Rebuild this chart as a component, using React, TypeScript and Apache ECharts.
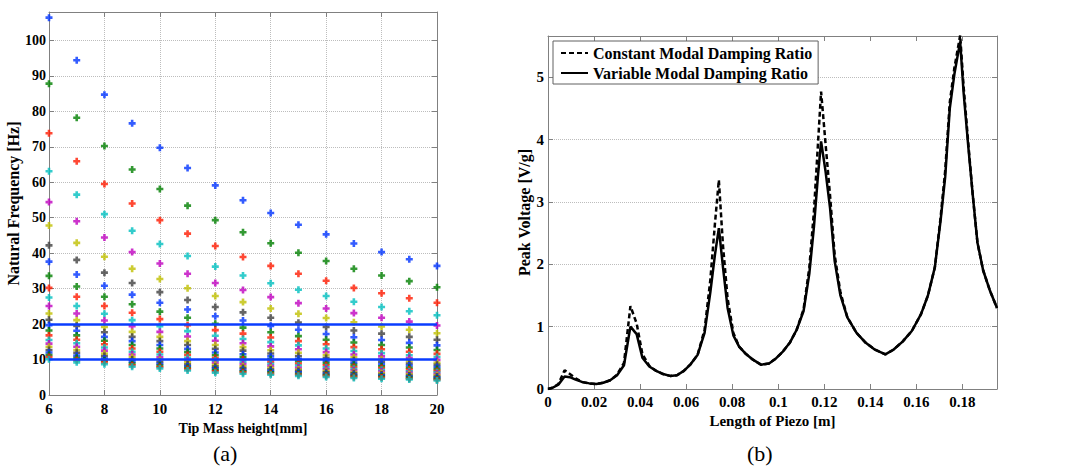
import React, { useEffect, useRef } from "react";
import * as echarts from "echarts";

// ---------- (a) Natural frequency vs tip mass height ----------
const tipHeights = [6, 7, 8, 9, 10, 11, 12, 13, 14, 15, 16, 17, 18, 19, 20];
// one array per tip-mass height, values of the 25 plotted frequencies (Hz), highest first
const f6 = [106.4, 87.8, 73.8, 63.1, 54.4, 47.8, 42.2, 37.6, 33.6, 30.2, 27.5, 25.1, 23.0, 21.2, 19.7, 18.2, 16.8, 15.5, 14.5, 13.6, 12.7, 12.0, 11.3, 10.7, 10.1];
const f7 = [94.4, 78.2, 65.9, 56.5, 49.0, 42.9, 38.1, 34.0, 30.6, 27.7, 25.1, 23.0, 21.1, 19.5, 18.1, 16.8, 15.6, 14.6, 13.6, 12.7, 11.9, 11.1, 10.4, 9.8, 9.2];
const f8 = [84.7, 70.2, 59.5, 51.0, 44.4, 39.0, 34.5, 30.8, 27.7, 25.1, 22.9, 21.0, 19.2, 17.7, 16.4, 15.3, 14.3, 13.4, 12.5, 11.7, 11.0, 10.3, 9.7, 9.2, 8.7];
const f9 = [76.6, 63.6, 54.0, 46.3, 40.3, 35.6, 31.6, 28.3, 25.6, 23.2, 21.1, 19.4, 17.8, 16.4, 15.2, 14.1, 13.1, 12.2, 11.4, 10.7, 10.0, 9.4, 8.9, 8.4, 8.0];
const f10 = [69.7, 58.1, 49.3, 42.6, 37.1, 32.7, 29.0, 26.0, 23.5, 21.4, 19.4, 17.8, 16.4, 15.2, 14.1, 13.1, 12.2, 11.4, 10.6, 9.9, 9.3, 8.8, 8.3, 7.9, 7.5];
const f11 = [64.0, 53.4, 45.5, 39.2, 34.2, 30.1, 26.8, 24.1, 21.8, 19.7, 18.0, 16.5, 15.2, 14.1, 13.0, 12.1, 11.3, 10.5, 9.8, 9.2, 8.6, 8.1, 7.7, 7.3, 6.9];
const f12 = [59.1, 49.3, 42.0, 36.2, 31.6, 27.9, 24.8, 22.2, 20.1, 18.3, 16.7, 15.3, 14.1, 13.0, 12.0, 11.2, 10.4, 9.7, 9.1, 8.5, 8.0, 7.5, 7.1, 6.7, 6.3];
const f13 = [54.9, 45.9, 38.9, 33.7, 29.6, 26.2, 23.3, 21.0, 19.0, 17.3, 15.8, 14.6, 13.5, 12.5, 11.5, 10.7, 10.0, 9.3, 8.7, 8.1, 7.6, 7.1, 6.7, 6.4, 6.0];
const f14 = [51.3, 42.8, 36.4, 31.5, 27.6, 24.4, 21.8, 19.5, 17.7, 16.2, 14.9, 13.7, 12.6, 11.7, 10.9, 10.1, 9.4, 8.8, 8.2, 7.7, 7.2, 6.8, 6.4, 6.0, 5.7];
const f15 = [48.0, 40.1, 34.2, 29.7, 25.9, 22.9, 20.4, 18.4, 16.6, 15.2, 14.0, 12.9, 11.9, 11.0, 10.2, 9.5, 8.9, 8.3, 7.7, 7.2, 6.8, 6.4, 6.0, 5.7, 5.4];
const f16 = [45.3, 37.8, 32.2, 27.9, 24.4, 21.7, 19.2, 17.2, 15.6, 14.3, 13.1, 12.1, 11.2, 10.4, 9.6, 9.0, 8.4, 7.8, 7.3, 6.8, 6.4, 6.0, 5.7, 5.4, 5.1];
const f17 = [42.7, 35.6, 30.2, 26.3, 23.1, 20.5, 18.2, 16.3, 14.8, 13.5, 12.4, 11.4, 10.6, 9.8, 9.1, 8.5, 7.9, 7.4, 6.9, 6.5, 6.1, 5.7, 5.4, 5.1, 4.8];
const f18 = [40.3, 33.7, 28.7, 24.8, 21.8, 19.3, 17.3, 15.5, 14.1, 12.9, 11.8, 10.9, 10.1, 9.4, 8.7, 8.1, 7.6, 7.1, 6.6, 6.2, 5.8, 5.5, 5.2, 4.9, 4.6];
const f19 = [38.3, 32.1, 27.3, 23.6, 20.7, 18.4, 16.4, 14.7, 13.4, 12.2, 11.2, 10.4, 9.6, 8.9, 8.3, 7.7, 7.2, 6.7, 6.3, 5.9, 5.5, 5.2, 4.9, 4.6, 4.4];
const f20 = [36.4, 30.4, 26.0, 22.5, 19.6, 17.4, 15.6, 14.0, 12.7, 11.6, 10.7, 9.9, 9.1, 8.5, 7.9, 7.3, 6.8, 6.4, 6.0, 5.6, 5.2, 4.9, 4.6, 4.3, 4.1];
const freqColumns = [f6, f7, f8, f9, f10, f11, f12, f13, f14, f15, f16, f17, f18, f19, f20];
const thresholdLines = [20, 10];
const yTicksA = { min: 0, max: 108, interval: 10 };

// ---------- (b) Peak voltage vs piezo length ----------
const pieceLength = [0, 0.002, 0.0045, 0.0072, 0.0095, 0.012, 0.015, 0.018, 0.021, 0.024, 0.027, 0.03, 0.033, 0.0358, 0.0385, 0.041, 0.044, 0.047, 0.05, 0.053, 0.056, 0.059, 0.062, 0.065, 0.068, 0.0705, 0.0725, 0.0742, 0.076, 0.078, 0.0805, 0.083, 0.086, 0.089, 0.0925, 0.096, 0.099, 0.102, 0.105, 0.108, 0.111, 0.1135, 0.1155, 0.1172, 0.1186, 0.1205, 0.1225, 0.1245, 0.127, 0.13, 0.134, 0.138, 0.142, 0.1465, 0.15, 0.154, 0.158, 0.162, 0.165, 0.168, 0.1705, 0.1725, 0.1745, 0.1765, 0.179, 0.1805, 0.1825, 0.1845, 0.1865, 0.189, 0.192, 0.195];
const constantDamping = [0, 0.02, 0.08, 0.3, 0.24, 0.17, 0.11, 0.09, 0.08, 0.1, 0.14, 0.23, 0.42, 1.33, 1.05, 0.56, 0.37, 0.29, 0.24, 0.21, 0.22, 0.29, 0.4, 0.55, 0.95, 1.75, 2.65, 3.35, 2.3, 1.45, 0.9, 0.68, 0.56, 0.47, 0.39, 0.41, 0.49, 0.6, 0.74, 0.95, 1.28, 1.95, 2.85, 3.9, 4.77, 3.95, 3.1, 2.15, 1.55, 1.15, 0.9, 0.74, 0.63, 0.555, 0.63, 0.76, 0.93, 1.2, 1.5, 1.95, 2.75, 3.5, 4.6, 5.15, 5.67, 4.85, 3.95, 3.1, 2.35, 1.9, 1.57, 1.3];
const variableDamping = [0, 0.02, 0.07, 0.2, 0.19, 0.15, 0.11, 0.09, 0.08, 0.1, 0.14, 0.22, 0.38, 1.0, 0.88, 0.5, 0.36, 0.29, 0.24, 0.21, 0.22, 0.29, 0.4, 0.55, 0.9, 1.55, 2.15, 2.58, 1.95, 1.3, 0.86, 0.68, 0.56, 0.47, 0.39, 0.41, 0.49, 0.6, 0.74, 0.95, 1.25, 1.85, 2.6, 3.4, 3.97, 3.5, 2.9, 2.05, 1.5, 1.15, 0.9, 0.74, 0.63, 0.555, 0.63, 0.76, 0.93, 1.2, 1.5, 1.95, 2.7, 3.4, 4.5, 5.05, 5.57, 4.75, 3.9, 3.1, 2.35, 1.9, 1.57, 1.3];
const legendNames = ["Constant Modal Damping Ratio", "Variable Modal Damping Ratio"];

const matlabColors = ["#0033ff", "#008000", "#ff1a00", "#00bfbf", "#bf00bf", "#bfbf00", "#404040"];

const FONT = "'Liberation Serif', 'Times New Roman', serif";
const AXIS_GRAY = "#808080";
const PLUS = "path://M2.2,0H4.8V2.2H7V4.8H4.8V7H2.2V4.8H0V2.2H2.2Z";

export default function App() {
  const ref = useRef<HTMLDivElement>(null);

  useEffect(() => {
    if (!ref.current) return;
    const chart = echarts.init(ref.current, null, { renderer: "svg" });

    const labelStyle = { color: "#000", fontFamily: FONT, fontWeight: "bold" as const };
    const boxAxis = (gridIndex: number, position: string, extra: any) => ({
      gridIndex,
      type: "value",
      position,
      axisLine: { show: true, onZero: false, lineStyle: { color: AXIS_GRAY, width: 1 } },
      axisTick: { show: true, inside: true, length: 5, lineStyle: { color: AXIS_GRAY } },
      axisLabel: { show: false },
      splitLine: { show: false },
      ...extra,
    });

    const nModes = f6.length;
    const scatterSeries: any[] = [];
    for (let k = 0; k < nModes; k++) {
      scatterSeries.push({
        type: "scatter",
        xAxisIndex: 0,
        yAxisIndex: 0,
        symbol: PLUS,
        symbolSize: 7,
        itemStyle: { color: matlabColors[k % matlabColors.length] },
        data: tipHeights.map((h, i) => [h, freqColumns[i][k]]),
        z: 2,
      });
    }
    scatterSeries.push({
      type: "line",
      xAxisIndex: 0,
      yAxisIndex: 0,
      data: [],
      z: 5,
      markLine: {
        silent: true,
        symbol: "none",
        label: { show: false },
        lineStyle: { color: "#0a3cff", width: 2.5, type: "solid" },
        data: thresholdLines.map((v) => ({ yAxis: v })),
      },
    });

    const option: any = {
      animation: false,
      backgroundColor: "#fff",
      grid: [
        { left: 49, top: 12, width: 388, height: 383 },
        { left: 548, top: 36, width: 449, height: 353 },
      ],
      legend: {
        left: 553,
        top: 41,
        orient: "vertical",
        data: legendNames,
        itemWidth: 27,
        itemHeight: 14,
        itemGap: 4,
        padding: [4, 6, 3, 7],
        borderColor: "#606060",
        borderWidth: 1,
        backgroundColor: "#fff",
        itemStyle: { opacity: 0 },
        textStyle: { ...labelStyle, fontSize: 16 },
      },
      xAxis: [
        boxAxis(0, "bottom", {
          min: 6,
          max: 20,
          interval: 2,
          axisLabel: { show: true, ...labelStyle, fontSize: 15, margin: 6 },
          splitLine: { show: true, lineStyle: { type: "dotted", color: "#bdbdbd" } },
          name: "Tip Mass height[mm]",
          nameLocation: "middle",
          nameGap: 26,
          nameTextStyle: { ...labelStyle, fontSize: 14 },
        }),
        boxAxis(0, "top", { min: 6, max: 20, interval: 2 }),
        boxAxis(1, "bottom", {
          min: 0,
          max: 0.195,
          interval: 0.02,
          axisLabel: { show: true, ...labelStyle, fontSize: 15, margin: 5, showMaxLabel: false },
          name: "Length of Piezo [m]",
          nameLocation: "middle",
          nameGap: 23,
          nameTextStyle: { ...labelStyle, fontSize: 15 },
        }),
        boxAxis(1, "top", { min: 0, max: 0.195, interval: 0.02 }),
      ],
      yAxis: [
        boxAxis(0, "left", {
          ...yTicksA,
          axisLabel: { show: true, ...labelStyle, fontSize: 14, margin: 3, showMaxLabel: false },
          splitLine: { show: true, lineStyle: { type: "dotted", color: "#bdbdbd" } },
          name: "Natural Frequency [Hz]",
          nameLocation: "middle",
          nameGap: 25,
          nameTextStyle: { ...labelStyle, fontSize: 16 },
        }),
        boxAxis(0, "right", { ...yTicksA }),
        boxAxis(1, "left", {
          min: 0,
          max: 5.66,
          interval: 1,
          axisLabel: { show: true, ...labelStyle, fontSize: 15, margin: 4, showMaxLabel: false },
          splitLine: { show: true, lineStyle: { type: "dotted", color: "#bdbdbd" } },
          name: "Peak Voltage [V/g]",
          nameLocation: "middle",
          nameGap: 15,
          nameTextStyle: { ...labelStyle, fontSize: 16 },
        }),
        boxAxis(1, "right", { min: 0, max: 5.66, interval: 1 }),
      ],
      graphic: [
        { type: "text", left: 213, top: 442, style: { text: "(a)", font: `22px ${FONT}`, fill: "#000" } },
        { type: "text", left: 747, top: 442, style: { text: "(b)", font: `22px ${FONT}`, fill: "#000" } },
      ],
      series: [
        ...scatterSeries,
        {
          name: legendNames[0],
          type: "line",
          xAxisIndex: 2,
          yAxisIndex: 2,
          showSymbol: false,
          symbol: "none",
          lineStyle: { color: "#000", width: 2.5, type: [5, 3] },
          itemStyle: { color: "#000" },
          data: pieceLength.map((x, i) => [x, constantDamping[i]]),
          z: 3,
        },
        {
          name: legendNames[1],
          type: "line",
          xAxisIndex: 2,
          yAxisIndex: 2,
          showSymbol: false,
          symbol: "none",
          lineStyle: { color: "#000", width: 2.5, type: "solid" },
          itemStyle: { color: "#000" },
          data: pieceLength.map((x, i) => [x, variableDamping[i]]),
          z: 4,
        },
      ],
    };

    chart.setOption(option);
    return () => chart.dispose();
  }, []);

  return (
    <div
      ref={ref}
      style={{ position: "fixed", left: 0, top: 0, width: 1089, height: 467, background: "#fff" }}
    />
  );
}
